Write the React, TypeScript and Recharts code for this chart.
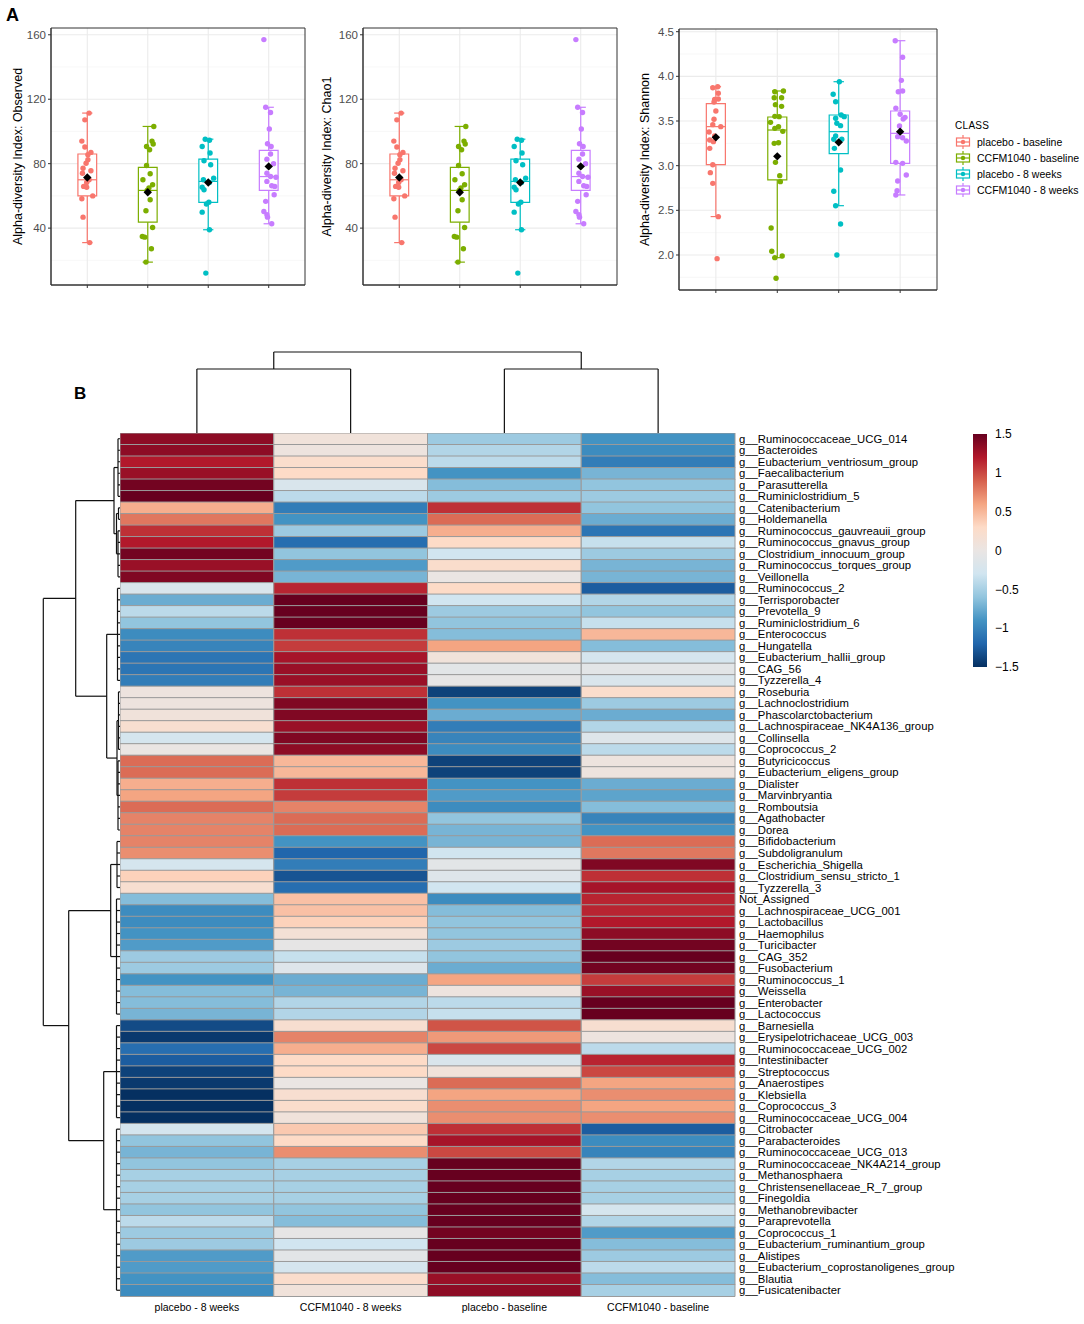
import React from "react";
import {
  BarChart,
  Bar,
  Cell,
  ComposedChart,
  Scatter,
  XAxis,
  YAxis,
  CartesianGrid,
  ReferenceArea,
  ReferenceLine,
  Legend,
  Label,
} from "recharts";

const FONT = '"Liberation Sans", Arial, Helvetica, sans-serif';

const CLASSES = ["placebo - baseline", "CCFM1040 - baseline", "placebo - 8 weeks", "CCFM1040 - 8 weeks"];
const CLASS_COLORS = ["#F8766D", "#7CAE00", "#00BFC4", "#C77CFF"];

// observed richness (Chao1 looks identical) : [value, jitter]
const observedPlaceboBase: [number, number][] = [
  [111.4, 0.03], [107.2, -0.04], [94, -0.09], [90.3, -0.04], [87, 0.06], [85.5, 0.01], [82.4, 0.01],
  [80.3, -0.02], [77.2, -0.07], [75.6, 0.06], [74.1, -0.08], [70, 0.03], [68.3, -0.01], [65.9, -0.06],
  [65.4, -0.01], [60, 0.09], [58.2, -0.09], [46.8, -0.07], [31, 0.04],
];
const observedCcfmBase: [number, number][] = [
  [103.1, 0.1], [94, 0.07], [92.2, 0.09], [90.7, -0.02], [88.6, 0.03], [78.9, -0.02], [73.7, 0.04],
  [70, -0.08], [66.9, 0.08], [65, 0.02], [63.4, -0.01], [57.6, 0.04], [50.8, -0.03], [40.4, 0.08],
  [34.8, -0.09], [34.4, -0.05], [27.2, 0.06], [18.9, -0.03],
];
const observedPlacebo8w: [number, number][] = [
  [95.2, -0.05], [94.5, 0.02], [90.7, -0.1], [86.6, 0.03], [81.8, -0.07], [79.3, 0.04], [71, 0.09],
  [70, -0.08], [68.3, 0.02], [65.4, -0.1], [63.8, -0.07], [56.1, 0.01], [55, -0.03], [49.9, -0.1],
  [39, 0.02], [12.1, -0.04],
];
const observedCcfm8w: [number, number][] = [
  [157, -0.08], [115, -0.05], [111.8, 0.03], [101.5, 0.01], [92.4, -0.02], [90.7, 0.04], [86, 0.03],
  [82.8, -0.03], [80, 0.08], [74.1, -0.03], [72, 0.03], [71.6, 0.12], [69, -0.03], [66.3, 0.05],
  [65.9, 0.1], [60.7, 0.09], [56.6, -0.05], [50.3, -0.08], [48.3, -0.03], [46.8, -0.02], [42.7, 0.05],
];
// [lower whisker, q1, median, q3, upper whisker, mean]
const observedBoxes = [
  [31, 60, 70, 86, 111.4, 71.4],
  [18.9, 43.7, 63.4, 77.7, 103.1, 62.3],
  [39, 56, 69, 82.8, 95.2, 68.3],
  [42.7, 63.4, 72, 88.2, 115, 78.3],
];

const shannonPlaceboBase: [number, number][] = [
  [3.884, 0.03], [3.873, -0.05], [3.81, 0.04], [3.746, 0.04], [3.74, -0.02], [3.713, -0.03], [3.612, 0],
  [3.519, -0.03], [3.459, -0.05], [3.437, 0.08], [3.377, -0.11], [3.332, -0.02], [3.287, -0.1],
  [3.269, -0.04], [3.194, -0.1], [3.011, -0.05], [2.922, -0.09], [2.802, -0.05], [2.429, 0.04], [1.959, 0.02],
];
const shannonCcfmBase: [number, number][] = [
  [3.836, 0.1], [3.828, -0.04], [3.761, -0.05], [3.761, 0.07], [3.683, -0.03], [3.664, 0.07], [3.552, -0.04],
  [3.549, 0.03], [3.485, -0.11], [3.437, 0.02], [3.418, -0.04], [3.384, 0.09], [3.257, 0.02], [3.25, -0.05],
  [3.037, -0.03], [2.888, 0.04], [2.821, 0.05], [2.302, -0.1], [2.041, -0.09], [1.97, -0.04], [1.989, 0.08],
  [1.739, -0.02],
];
const shannonPlacebo8w: [number, number][] = [
  [3.94, 0.01], [3.799, -0.09], [3.716, -0.05], [3.567, 0.04], [3.549, 0.09], [3.53, -0.05], [3.474, -0.03],
  [3.448, 0.03], [3.332, -0.05], [3.295, 0.05], [3.295, -0.08], [3.194, -0.07], [2.951, 0.03], [2.713, -0.08],
  [2.552, -0.05], [2.347, 0.03], [2.0, -0.03],
];
const shannonCcfm8w: [number, number][] = [
  [4.399, -0.08], [4.213, 0.04], [3.955, 0.02], [3.836, 0.04], [3.828, -0.03], [3.642, -0.07], [3.575, 0],
  [3.541, 0.08], [3.522, 0.05], [3.444, -0.01], [3.325, -0.04], [3.313, 0.04], [3.276, 0.1], [3.037, -0.07],
  [3.026, 0.04], [2.896, 0.1], [2.828, -0.04], [2.72, -0.05], [2.672, -0.07],
];
const shannonBoxes = [
  [2.43, 3.011, 3.437, 3.694, 3.884, 3.317],
  [1.97, 2.84, 3.399, 3.545, 3.836, 3.104],
  [2.552, 3.134, 3.381, 3.567, 3.94, 3.261],
  [2.672, 3.026, 3.362, 3.612, 4.399, 3.381],
];

const observedTicks = [40, 80, 120, 160];
const observedMinor = [20, 60, 100, 140];
const shannonTicks = [2.0, 2.5, 3.0, 3.5, 4.0, 4.5];
const shannonMinor = [1.75, 2.25, 2.75, 3.25, 3.75, 4.25];

// heatmap (row z-scores)
const HEAT_COLUMNS = ["placebo - 8 weeks", "CCFM1040 - 8 weeks", "placebo - baseline", "CCFM1040 - baseline"];
const GENERA = [
  "g__Ruminococcaceae_UCG_014", "g__Bacteroides", "g__Eubacterium_ventriosum_group", "g__Faecalibacterium",
  "g__Parasutterella", "g__Ruminiclostridium_5", "g__Catenibacterium", "g__Holdemanella",
  "g__Ruminococcus_gauvreauii_group", "g__Ruminococcus_gnavus_group", "g__Clostridium_innocuum_group",
  "g__Ruminococcus_torques_group", "g__Veillonella", "g__Ruminococcus_2", "g__Terrisporobacter",
  "g__Prevotella_9", "g__Ruminiclostridium_6", "g__Enterococcus", "g__Hungatella",
  "g__Eubacterium_hallii_group", "g__CAG_56", "g__Tyzzerella_4", "g__Roseburia", "g__Lachnoclostridium",
  "g__Phascolarctobacterium", "g__Lachnospiraceae_NK4A136_group", "g__Collinsella", "g__Coprococcus_2",
  "g__Butyricicoccus", "g__Eubacterium_eligens_group", "g__Dialister", "g__Marvinbryantia", "g__Romboutsia",
  "g__Agathobacter", "g__Dorea", "g__Bifidobacterium", "g__Subdoligranulum", "g__Escherichia_Shigella",
  "g__Clostridium_sensu_stricto_1", "g__Tyzzerella_3", "Not_Assigned", "g__Lachnospiraceae_UCG_001",
  "g__Lactobacillus", "g__Haemophilus", "g__Turicibacter", "g__CAG_352", "g__Fusobacterium",
  "g__Ruminococcus_1", "g__Weissella", "g__Enterobacter", "g__Lactococcus", "g__Barnesiella",
  "g__Erysipelotrichaceae_UCG_003", "g__Ruminococcaceae_UCG_002", "g__Intestinibacter", "g__Streptococcus",
  "g__Anaerostipes", "g__Klebsiella", "g__Coprococcus_3", "g__Ruminococcaceae_UCG_004", "g__Citrobacter",
  "g__Parabacteroides", "g__Ruminococcaceae_UCG_013", "g__Ruminococcaceae_NK4A214_group", "g__Methanosphaera",
  "g__Christensenellaceae_R_7_group", "g__Finegoldia", "g__Methanobrevibacter", "g__Paraprevotella",
  "g__Coprococcus_1", "g__Eubacterium_ruminantium_group", "g__Alistipes",
  "g__Eubacterium_coprostanoligenes_group", "g__Blautia", "g__Fusicatenibacter",
];
const zPlacebo8w = [
  1.35, 1.35, 1.2, 1.3, 1.45, 1.5, 0.55, 0.8, 1.1, 1.2, 1.45, 1.3, 1.4, -0.2, -0.75, -0.4, -0.6, -0.95, -1.0,
  -1.1, -1.1, -1.05, 0.05, 0.05, 0.1, 0.2, -0.25, 0, 0.85, 0.85, 0.55, 0.6, 0.85, 0.75, 0.75, 0.75, 0.7,
  -0.25, 0.35, 0.2, -0.65, -0.95, -0.95, -0.9, -0.85, -0.55, -0.55, -0.9, -0.65, -0.65, -0.7, -1.35, -1.45,
  -1.15, -1.25, -1.4, -1.45, -1.5, -1.5, -1.5, -0.25, -0.6, -0.7, -0.6, -0.5, -0.5, -0.5, -0.6, -0.4, -0.55,
  -0.55, -0.85, -0.85, -0.9, -0.95,
];
const zCcfm8w = [
  0.1, 0.05, 0.25, 0.3, -0.2, -0.4, -1.05, -0.9, -0.55, -1.15, -0.6, -0.85, -0.7, 1.15, 1.5, 1.5, 1.5, 1.1,
  1.05, 1.25, 1.3, 1.3, 1.1, 1.4, 1.4, 1.3, 1.4, 1.35, 0.5, 0.5, 1.1, 1.05, 0.75, 0.85, 0.85, -0.9, -1.2,
  -1.05, -1.3, -1.15, 0.45, 0.45, 0.35, 0.15, -0.05, -0.35, -0.15, -0.75, -0.7, -0.45, -0.45, 0.2, 0.75, 0.55,
  0.3, 0.3, 0, 0.2, 0.25, 0.1, 0.4, 0.3, 0.7, -0.5, -0.5, -0.5, -0.5, -0.6, -0.65, -0.05, -0.3, -0.1, -0.25,
  0.25, 0.1,
];
const zPlaceboBase = [
  -0.55, -0.45, -0.4, -0.9, -0.65, -0.55, 1.1, 0.85, 0.55, 0.3, -0.3, 0.25, 0, 0.3, -0.3, -0.55, -0.6, -0.65,
  0.6, 0.1, -0.1, -0.05, -1.4, -0.9, -0.75, -1.05, -1.0, -0.95, -1.4, -1.4, -0.9, -0.85, -0.95, -0.6, -0.7,
  -0.7, -0.3, -0.1, -0.15, -0.3, -0.95, -0.65, -0.6, -0.6, -0.55, -0.6, -0.75, 0.6, 0.05, -0.4, -0.35, 0.95,
  0.65, 1.0, -0.2, 0.1, 0.85, 0.6, 0.7, 0.7, 1.1, 1.25, 1.0, 1.5, 1.5, 1.5, 1.5, 1.5, 1.5, 1.45, 1.5, 1.5,
  1.5, 1.3, 1.35,
];
const zCcfmBase = [
  -0.9, -0.95, -1.05, -0.7, -0.6, -0.55, -0.6, -0.75, -1.1, -0.35, -0.55, -0.7, -0.7, -1.25, -0.45, -0.6,
  -0.35, 0.5, -0.65, -0.25, -0.1, -0.2, 0.25, -0.55, -0.75, -0.45, -0.15, -0.4, 0.05, 0.05, -0.75, -0.8,
  -0.65, -1.0, -0.9, 0.85, 0.8, 1.4, 1.1, 1.25, 1.15, 1.15, 1.2, 1.35, 1.45, 1.5, 1.45, 1.05, 1.3, 1.5, 1.5,
  0.2, 0.05, -0.4, 1.15, 1.0, 0.6, 0.7, 0.6, 0.7, -1.25, -0.95, -1.0, -0.45, -0.5, -0.5, -0.5, -0.25, -0.45,
  -0.85, -0.65, -0.55, -0.4, -0.65, -0.5,
];
const HEAT_VALUES = [zPlacebo8w, zCcfm8w, zPlaceboBase, zCcfmBase];

// row clustering: leaf groups [first row, last row, height] then merges [a, b, height]
const ROW_GROUPS = [
  [1, 6, 2], [7, 8, 1.5], [9, 13, 2], [14, 22, 2.5], [23, 28, 1.5], [29, 35, 2],
  [36, 40, 3], [41, 51, 3.5], [52, 60, 3.5], [61, 75, 3.5],
];
const ROW_MERGES = [
  [1, 2, 3.5], [0, 10, 6], [4, 5, 3], [3, 12, 13.3], [11, 13, 44.3],
  [6, 7, 9.3], [8, 9, 16.3], [15, 16, 51.3], [14, 17, 76.7],
];
const COL_GROUPS = [[1, 1, 0], [2, 2, 0], [3, 3, 0], [4, 4, 0]];
const COL_MERGES = [[0, 1, 64], [2, 3, 64], [4, 5, 81]];

const COLORBAR_TICKS = [-1.5, -1, -0.5, 0, 0.5, 1, 1.5];
const RDBU = ["#053061", "#2166AC", "#4393C3", "#92C5DE", "#D1E5F0", "#EAE5E3", "#FDDBC7", "#F4A582", "#D6604D", "#B2182B", "#67001F"];

function hexRgb(h: string) {
  return [1, 3, 5].map((i) => parseInt(h.slice(i, i + 2), 16));
}
function rdbu(v: number) {
  const t = Math.max(0, Math.min(1, (v + 1.5) / 3)) * 10;
  const i = Math.min(9, Math.floor(t));
  const f = t - i;
  const a = hexRgb(RDBU[i]);
  const b = hexRgb(RDBU[i + 1]);
  const c = a.map((x, k) => Math.round(x + (b[k] - x) * f));
  return `rgb(${c[0]},${c[1]},${c[2]})`;
}

// turn groups + merges into line segments in (height, position) space
function treeSegments(groups: number[][], merges: number[][]) {
  const pos: number[] = [];
  const hgt: number[] = [];
  const segs: { h1: number; p1: number; h2: number; p2: number }[] = [];
  groups.forEach(([a, b, h]) => {
    for (let r = a; r <= b; r++) segs.push({ h1: 0, p1: r - 0.5, h2: h, p2: r - 0.5 });
    if (b > a) segs.push({ h1: h, p1: a - 0.5, h2: h, p2: b - 0.5 });
    pos.push((a + b) / 2 - 0.5);
    hgt.push(h);
  });
  merges.forEach(([i, j, h]) => {
    segs.push({ h1: hgt[i], p1: pos[i], h2: h, p2: pos[i] });
    segs.push({ h1: hgt[j], p1: pos[j], h2: h, p2: pos[j] });
    segs.push({ h1: h, p1: pos[i], h2: h, p2: pos[j] });
    pos.push((pos[i] + pos[j]) / 2);
    hgt.push(h);
  });
  return segs;
}

const Dot = (p: any) => <circle cx={p.cx} cy={p.cy} r={2.7} fill={p.fill} />;
const Diamond = (p: any) => (
  <path d={`M${p.cx},${p.cy - 4.2}L${p.cx + 4.2},${p.cy}L${p.cx},${p.cy + 4.2}L${p.cx - 4.2},${p.cy}Z`} fill="#000" />
);
const Nothing = () => <g />;

const ClassLegend = () => (
  <div style={{ fontFamily: FONT, fontSize: 10.5, color: "#000", lineHeight: "16px" }}>
    <div style={{ fontSize: 10, letterSpacing: 0.3 }}>CLASS</div>
    {CLASSES.map((c, i) => (
      <div key={c} style={{ display: "flex", alignItems: "center", height: 16 }}>
        <svg width={16} height={16}>
          <line x1={8} y1={1} x2={8} y2={15} stroke={CLASS_COLORS[i]} strokeWidth={1.2} />
          <rect x={1.5} y={4} width={13} height={8} fill="#fff" stroke={CLASS_COLORS[i]} strokeWidth={1.2} />
          <line x1={1.5} y1={8} x2={14.5} y2={8} stroke={CLASS_COLORS[i]} strokeWidth={1.2} />
          <circle cx={8} cy={8} r={2.2} fill={CLASS_COLORS[i]} />
        </svg>
        <span style={{ marginLeft: 6 }}>{c}</span>
      </div>
    ))}
  </div>
);

interface AlphaProps {
  left: number;
  width: number;
  top: number;
  plotHeight: number;
  yAxisWidth: number;
  plotWidth: number;
  titleX: number;
  title: string;
  groups: [number, number][][];
  boxes: number[][];
  domain: [number, number];
  ticks: number[];
  minor: number[];
  digits: number;
  legend?: boolean;
}

function AlphaPanel(props: AlphaProps) {
  const { left, width, top, plotHeight, yAxisWidth, plotWidth, titleX, title, groups, boxes, domain, ticks, minor, digits, legend } = props;
  const bw = 0.155;
  const cw = 0.085;
  const lineColor = "#333333";
  return (
    <div style={{ position: "absolute", left, top: 0 }}>
      <ComposedChart
        width={width}
        height={top + plotHeight + 6}
        margin={{ top, right: width - yAxisWidth - plotWidth, bottom: 0, left: 0 }}
      >
        <CartesianGrid horizontalValues={minor} vertical={false} stroke="#F3F3F3" strokeWidth={0.7} />
        <CartesianGrid horizontalValues={ticks} verticalValues={[1, 2, 3, 4]} stroke="#EBEBEB" strokeWidth={1.1} />
        <XAxis
          type="number"
          dataKey="x"
          domain={[0.4, 4.6]}
          ticks={[1, 2, 3, 4]}
          tickFormatter={() => ""}
          height={6}
          tickSize={3}
          stroke={lineColor}
          allowDataOverflow
        />
        <YAxis
          type="number"
          dataKey="y"
          domain={domain}
          ticks={ticks}
          tickFormatter={(v: number) => v.toFixed(digits)}
          width={yAxisWidth}
          tickSize={3}
          tickMargin={2}
          stroke={lineColor}
          tick={{ fill: "#4D4D4D", fontSize: 11.5, fontFamily: FONT }}
          allowDataOverflow
        >
          <Label
            content={(lp: any) => {
              const vb = lp.viewBox || {};
              const cy = (vb.y ?? top) + (vb.height ?? plotHeight) / 2;
              return (
                <text
                  x={titleX}
                  y={cy}
                  transform={`rotate(-90 ${titleX} ${cy})`}
                  textAnchor="middle"
                  fontSize={12.5}
                  fontFamily={FONT}
                  fill="#000"
                >
                  {title}
                </text>
              );
            }}
          />
        </YAxis>
        {boxes.map((b, gi) => {
          const c = gi + 1;
          const col = CLASS_COLORS[gi];
          return [
            <ReferenceLine key={`wu${gi}`} segment={[{ x: c, y: b[3] }, { x: c, y: b[4] }]} stroke={col} strokeWidth={1.2} ifOverflow="visible" />,
            <ReferenceLine key={`wl${gi}`} segment={[{ x: c, y: b[0] }, { x: c, y: b[1] }]} stroke={col} strokeWidth={1.2} ifOverflow="visible" />,
            <ReferenceLine key={`cu${gi}`} segment={[{ x: c - cw, y: b[4] }, { x: c + cw, y: b[4] }]} stroke={col} strokeWidth={1.2} ifOverflow="visible" />,
            <ReferenceLine key={`cl${gi}`} segment={[{ x: c - cw, y: b[0] }, { x: c + cw, y: b[0] }]} stroke={col} strokeWidth={1.2} ifOverflow="visible" />,
            <ReferenceArea key={`bx${gi}`} x1={c - bw} x2={c + bw} y1={b[1]} y2={b[3]} fill="#fff" fillOpacity={1} stroke={col} strokeWidth={1.2} ifOverflow="visible" />,
            <ReferenceLine key={`md${gi}`} segment={[{ x: c - bw, y: b[2] }, { x: c + bw, y: b[2] }]} stroke={col} strokeWidth={1.2} ifOverflow="visible" />,
          ];
        })}
        {groups.map((g, gi) => (
          <Scatter
            key={CLASSES[gi]}
            name={CLASSES[gi]}
            data={g.map(([v, dx]) => ({ x: gi + 1 + dx, y: v }))}
            fill={CLASS_COLORS[gi]}
            shape={Dot}
            isAnimationActive={false}
          />
        ))}
        <Scatter
          name="mean"
          data={boxes.map((b, gi) => ({ x: gi + 1, y: b[5] }))}
          fill="#000"
          shape={Diamond}
          isAnimationActive={false}
        />
        <ReferenceArea x1={0.4} x2={4.6} y1={domain[0]} y2={domain[1]} fill="none" stroke={lineColor} strokeWidth={1} ifOverflow="visible" />
        {legend && (
          <Legend
            layout="horizontal"
            verticalAlign="middle"
            align="center"
            content={ClassLegend}
            wrapperStyle={{ left: 328, top: 118, width: 130, height: 84 }}
          />
        )}
      </ComposedChart>
    </div>
  );
}

function Heatmap() {
  const rows = GENERA.map((name) => ({ name, w0: 1, w1: 1, w2: 1, w3: 1 }));
  return (
    <div style={{ position: "absolute", left: 120, top: 433 }}>
      <BarChart
        layout="vertical"
        width={870}
        height={893}
        data={rows}
        margin={{ top: 0, right: 0, bottom: 0, left: 0 }}
        barCategoryGap={0}
        barGap={0}
      >
        <XAxis
          type="number"
          domain={[0, 4]}
          ticks={[0.5, 1.5, 2.5, 3.5]}
          tickFormatter={(v: number) => HEAT_COLUMNS[Math.floor(v)]}
          axisLine={false}
          tickLine={false}
          height={30}
          interval={0}
          tick={{ fontSize: 10.5, fill: "#000", fontFamily: FONT }}
        />
        <YAxis
          type="category"
          dataKey="name"
          orientation="right"
          width={255}
          axisLine={false}
          tickLine={false}
          tickSize={0}
          tickMargin={4}
          interval={0}
          tick={{ fontSize: 11.3, fill: "#000", fontFamily: FONT }}
        />
        {HEAT_VALUES.map((col, ci) => (
          <Bar key={HEAT_COLUMNS[ci]} dataKey={`w${ci}`} stackId="h" stroke="#9A9A9A" strokeWidth={1} isAnimationActive={false}>
            {col.map((v, ri) => (
              <Cell key={ri} fill={rdbu(v)} />
            ))}
          </Bar>
        ))}
      </BarChart>
    </div>
  );
}

function RowDendrogram() {
  const segs = treeSegments(ROW_GROUPS, ROW_MERGES);
  const leaves = GENERA.map((_, i) => ({ x: 0, y: i + 0.5 }));
  return (
    <div style={{ position: "absolute", left: 40, top: 433 }}>
      <ComposedChart width={80} height={863} margin={{ top: 0, right: 0, bottom: 0, left: 0 }}>
        <XAxis type="number" dataKey="x" domain={[0, 80]} reversed hide allowDataOverflow />
        <YAxis type="number" dataKey="y" domain={[0, GENERA.length]} reversed hide allowDataOverflow />
        <Scatter data={leaves} shape={Nothing} isAnimationActive={false} />
        {segs.map((s, i) => (
          <ReferenceLine
            key={i}
            segment={[{ x: s.h1, y: s.p1 }, { x: s.h2, y: s.p2 }]}
            stroke="#111"
            strokeWidth={1.2}
            ifOverflow="visible"
          />
        ))}
      </ComposedChart>
    </div>
  );
}

function ColDendrogram() {
  const segs = treeSegments(COL_GROUPS, COL_MERGES);
  const leaves = HEAT_COLUMNS.map((_, i) => ({ x: i + 0.5, y: 0 }));
  return (
    <div style={{ position: "absolute", left: 120, top: 348 }}>
      <ComposedChart width={615} height={85} margin={{ top: 0, right: 0, bottom: 0, left: 0 }}>
        <XAxis type="number" dataKey="x" domain={[0, 4]} hide allowDataOverflow />
        <YAxis type="number" dataKey="y" domain={[0, 85]} hide allowDataOverflow />
        <Scatter data={leaves} shape={Nothing} isAnimationActive={false} />
        {segs.map((s, i) => (
          <ReferenceLine
            key={i}
            segment={[{ x: s.p1, y: s.h1 }, { x: s.p2, y: s.h2 }]}
            stroke="#111"
            strokeWidth={1.2}
            ifOverflow="visible"
          />
        ))}
      </ComposedChart>
    </div>
  );
}

function ColorBar() {
  const data = [{ name: "z", range: [COLORBAR_TICKS[0], COLORBAR_TICKS[COLORBAR_TICKS.length - 1]] }];
  return (
    <div style={{ position: "absolute", left: 973, top: 426 }}>
      <BarChart width={60} height={249} data={data} margin={{ top: 8, right: 0, bottom: 8, left: 0 }} barCategoryGap={0}>
        <defs>
          <linearGradient id="rdbuGrad" x1="0" y1="1" x2="0" y2="0">
            {RDBU.map((c, i) => (
              <stop key={i} offset={`${(i / (RDBU.length - 1)) * 100}%`} stopColor={c} />
            ))}
          </linearGradient>
        </defs>
        <XAxis dataKey="name" hide />
        <YAxis
          type="number"
          domain={[-1.5, 1.5]}
          ticks={COLORBAR_TICKS}
          orientation="right"
          width={46}
          axisLine={false}
          tickLine={false}
          tick={{ fontSize: 12, fill: "#000", fontFamily: FONT }}
          tickFormatter={(v: number) => String(v).replace("-", "\u2212")}
        />
        <Bar dataKey="range" fill="url(#rdbuGrad)" isAnimationActive={false} />
      </BarChart>
    </div>
  );
}

export default function App() {
  return (
    <div style={{ position: "absolute", left: 0, top: 0, width: 1084, height: 1324, background: "#fff", fontFamily: FONT }}>
      <div style={{ position: "absolute", left: 6, top: 6, fontSize: 18, fontWeight: "bold", lineHeight: 1 }}>A</div>
      <AlphaPanel
        left={0}
        width={306}
        top={28}
        plotHeight={257}
        yAxisWidth={51}
        plotWidth={254}
        titleX={22}
        title="Alpha-diversity Index: Observed"
        groups={[observedPlaceboBase, observedCcfmBase, observedPlacebo8w, observedCcfm8w]}
        boxes={observedBoxes}
        domain={[4.7, 164.2]}
        ticks={observedTicks}
        minor={observedMinor}
        digits={0}
      />
      <AlphaPanel
        left={312}
        width={306}
        top={28}
        plotHeight={257}
        yAxisWidth={51}
        plotWidth={254}
        titleX={19}
        title="Alpha-diversity Index: Chao1"
        groups={[observedPlaceboBase, observedCcfmBase, observedPlacebo8w, observedCcfm8w]}
        boxes={observedBoxes}
        domain={[4.7, 164.2]}
        ticks={observedTicks}
        minor={observedMinor}
        digits={0}
      />
      <AlphaPanel
        left={627}
        width={457}
        top={29}
        plotHeight={261}
        yAxisWidth={52}
        plotWidth={258}
        titleX={22}
        title="Alpha-diversity Index: Shannon"
        groups={[shannonPlaceboBase, shannonCcfmBase, shannonPlacebo8w, shannonCcfm8w]}
        boxes={shannonBoxes}
        domain={[1.608, 4.53]}
        ticks={shannonTicks}
        minor={shannonMinor}
        digits={1}
        legend
      />
      <div style={{ position: "absolute", left: 74, top: 385, fontSize: 17, fontWeight: "bold", lineHeight: 1 }}>B</div>
      <ColDendrogram />
      <RowDendrogram />
      <Heatmap />
      <ColorBar />
    </div>
  );
}
